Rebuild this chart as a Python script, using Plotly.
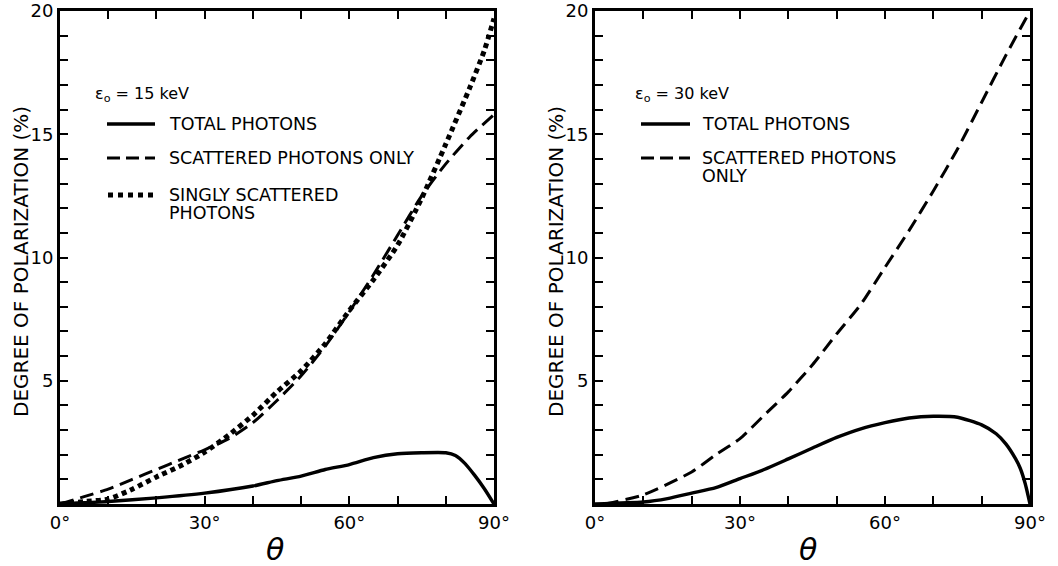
import plotly.graph_objects as go

# ---- data ----
theta_total_15 = [0, 10, 20, 30, 40, 45, 50, 55, 60, 65, 70, 75, 80, 82, 84, 86, 88, 90]
total_15 = [0.0, 0.1, 0.25, 0.44, 0.73, 0.95, 1.13, 1.4, 1.6, 1.88, 2.04, 2.08, 2.08, 1.97, 1.64, 1.16, 0.62, 0.0]

theta_scat_15 = [0, 5, 10, 15, 20, 25, 30, 35, 40, 45, 50, 55, 60, 65, 70, 75, 80, 85, 90]
scat_15 = [0.0, 0.3, 0.6, 1.0, 1.4, 1.8, 2.2, 2.65, 3.3, 4.2, 5.2, 6.4, 7.8, 9.3, 10.9, 12.5, 13.8, 14.9, 15.8]

theta_single_15 = [0, 5, 10, 15, 20, 25, 30, 35, 40, 45, 50, 55, 60, 65, 70, 75, 80, 85, 88, 90]
single_15 = [0.0, 0.1, 0.2, 0.6, 1.1, 1.55, 2.1, 2.8, 3.6, 4.55, 5.4, 6.5, 7.85, 9.1, 10.5, 12.4, 14.6, 16.9, 18.4, 19.7]

theta_total_30 = [0, 10, 15, 20, 25, 30, 35, 40, 45, 50, 55, 60, 65, 70, 75, 80, 83, 85, 87, 88, 89, 90]
total_30 = [0.0, 0.08, 0.22, 0.44, 0.66, 1.03, 1.4, 1.83, 2.27, 2.7, 3.05, 3.3, 3.49, 3.56, 3.52, 3.21, 2.85, 2.44, 1.84, 1.44, 0.83, 0.0]

theta_scat_30 = [2, 10, 20, 25, 30, 35, 40, 45, 50, 55, 60, 65, 70, 75, 80, 85, 90]
scat_30 = [0.0, 0.37, 1.3, 2.0, 2.65, 3.6, 4.55, 5.65, 6.9, 8.1, 9.6, 11.1, 12.7, 14.4, 16.3, 18.2, 20.0]

x_tickvals = list(range(0, 91, 10))
x_ticktext = ["0°", "", "", "30°", "", "", "60°", "", "", "90°"]
y_tickvals = list(range(0, 21))
y_ticktext = ["" if v % 5 or v == 0 else str(v) for v in y_tickvals]

legend_15 = ["TOTAL PHOTONS", "SCATTERED PHOTONS ONLY", "SINGLY SCATTERED", "PHOTONS"]
legend_30 = ["TOTAL PHOTONS", "SCATTERED PHOTONS", "ONLY"]
energy_15 = "ε<sub>o</sub> = 15 keV"
energy_30 = "ε<sub>o</sub> = 30 keV"

W, H = 1058, 566
FONT = "DejaVu Sans"

def px(x):
    return x / W

def py(y):
    return 1 - y / H

fig = go.Figure()

SOLID_W = 3.4
DASH = "14px,7px"

fig.add_trace(go.Scatter(x=theta_total_15, y=total_15, mode="lines",
                         line=dict(color="black", width=SOLID_W, shape="spline", smoothing=0.6),
                         xaxis="x", yaxis="y", showlegend=False))
fig.add_trace(go.Scatter(x=theta_scat_15, y=scat_15, mode="lines",
                         line=dict(color="black", width=3, dash=DASH, shape="spline", smoothing=0.6),
                         xaxis="x", yaxis="y", showlegend=False))
fig.add_trace(go.Scatter(x=theta_single_15, y=single_15, mode="lines",
                         line=dict(color="black", width=5, dash="5px,4px", shape="spline", smoothing=0.6),
                         xaxis="x", yaxis="y", showlegend=False))
fig.add_trace(go.Scatter(x=theta_total_30, y=total_30, mode="lines",
                         line=dict(color="black", width=SOLID_W, shape="spline", smoothing=0.6),
                         xaxis="x2", yaxis="y2", showlegend=False))
fig.add_trace(go.Scatter(x=theta_scat_30, y=scat_30, mode="lines",
                         line=dict(color="black", width=3, dash=DASH, shape="spline", smoothing=0.6),
                         xaxis="x2", yaxis="y2", showlegend=False))

axis_common = dict(showline=True, linewidth=3, linecolor="black", mirror="ticks",
                   ticks="inside", ticklen=8, tickwidth=2, tickcolor="black",
                   showgrid=False, zeroline=False, fixedrange=True, automargin=False,
                   ticklabeloverflow="allow",
                   tickfont=dict(family=FONT, size=18, color="black"))

ybot, ytop = py(504), py(11)
fig.update_layout(
    width=W, height=H,
    margin=dict(l=0, r=0, t=0, b=0),
    paper_bgcolor="white", plot_bgcolor="white",
    xaxis=dict(domain=[px(60), px(494)], range=[0, 90], tickvals=x_tickvals, ticktext=x_ticktext,
               anchor="y", **axis_common),
    yaxis=dict(domain=[ybot, ytop], range=[0, 20], tickvals=y_tickvals, ticktext=y_ticktext,
               anchor="x", **axis_common),
    xaxis2=dict(domain=[px(595), px(1030)], range=[0, 90], tickvals=x_tickvals, ticktext=x_ticktext,
                anchor="y2", **axis_common),
    yaxis2=dict(domain=[ybot, ytop], range=[0, 20], tickvals=y_tickvals, ticktext=y_ticktext,
                anchor="x2", **axis_common),
)

annotations = []
shapes = []

def text(x, y, s, size=16, xanchor="left", angle=0, italic=False):
    annotations.append(dict(x=px(x), y=py(y), xref="paper", yref="paper", text=s,
                            showarrow=False, xanchor=xanchor, yanchor="middle",
                            textangle=angle,
                            font=dict(family=FONT, size=size, color="black",
                                      style="italic" if italic else "normal")))

def sample(x0, x1, y, dash, width):
    shapes.append(dict(type="line", xref="paper", yref="paper",
                       x0=px(x0), x1=px(x1), y0=py(y), y1=py(y),
                       line=dict(color="black", width=width, dash=dash)))

# axis titles
text(21, 262, "DEGREE OF POLARIZATION (%)", size=20, xanchor="center", angle=-90)
text(556, 262, "DEGREE OF POLARIZATION (%)", size=20, xanchor="center", angle=-90)
text(275, 549, "θ", size=30, xanchor="center", italic=True)
text(808, 549, "θ", size=30, xanchor="center", italic=True)

LS = 17.5
# left legend
text(93, 95, energy_15, size=16)
sample(107, 155, 124, "solid", 3.4)
text(167, 124, legend_15[0], size=LS)
sample(107, 155, 158, "13px,6px", 3)
text(167, 158, legend_15[1], size=LS)
sample(108, 154, 195, "5px,5px", 5)
text(167, 195, legend_15[2], size=LS)
text(167, 213, legend_15[3], size=LS)

# right legend
text(633, 95, energy_30, size=16)
sample(641, 690, 124, "solid", 3.4)
text(700, 124, legend_30[0], size=LS)
sample(641, 690, 158, "13px,6px", 3)
text(700, 158, legend_30[1], size=LS)
text(700, 176, legend_30[2], size=LS)

fig.update_layout(annotations=annotations, shapes=shapes)

fig.write_html("out.html")
